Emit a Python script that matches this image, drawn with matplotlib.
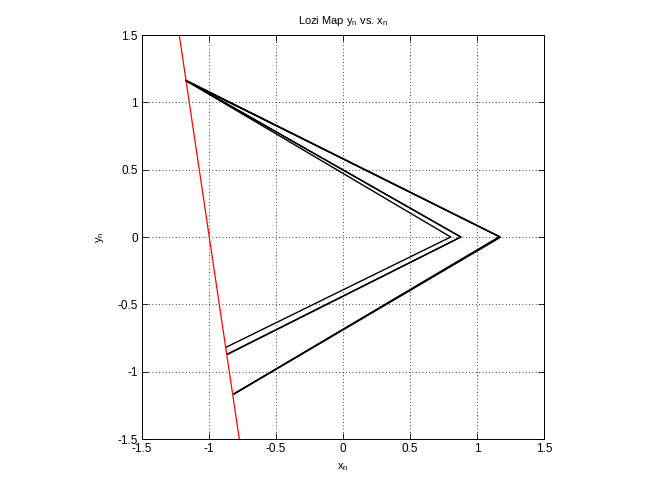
import matplotlib
matplotlib.use("Agg")
import matplotlib.pyplot as plt

# Orbit passes: each pass is (top-left vertex, right vertex, bottom-left vertex)
xn = [-1.172, 0.804, -0.873,
      -1.172, 0.878, -0.860,
      -1.170, 1.172, -0.813,
      -1.172, 1.168, -0.813,
      -1.171, 0.881, -0.859,
      -1.172, 1.175, -0.812]
yn = [1.161, 0.000, -0.819,
      1.161, 0.000, -0.868,
      1.163, 0.000, -1.165,
      1.159, 0.003, -1.164,
      1.162, 0.000, -0.870,
      1.161, -0.002, -1.165]

# Red line endpoints
red_x = [-1.222, -0.774]
red_y = [1.5, -1.5]

ticks = [-1.5, -1, -0.5, 0, 0.5, 1, 1.5]
tick_labels = ["-1.5", "-1", "-0.5", "0", "0.5", "1", "1.5"]

plt.rcParams['font.family'] = ['Liberation Sans', 'DejaVu Sans']
fig = plt.figure(figsize=(6.64, 4.93), dpi=100)
ax = fig.add_axes([142/664, 54/493, 402/664, 404/493])

for i in range(0, len(xn), 3):
    ax.plot(xn[i:i+3], yn[i:i+3], color='black', lw=1.0)
ax.plot(red_x, red_y, color='red', lw=0.9)

ax.set_xlim(-1.5, 1.5)
ax.set_ylim(-1.5, 1.5)
ax.set_xticks(ticks)
ax.set_xticklabels(tick_labels)
ax.set_yticks(ticks)
ax.set_yticklabels(tick_labels)
ax.tick_params(direction='in', top=True, right=True, labelsize=8.5, length=4, width=0.6, pad=3)
ax.grid(True, linestyle=(0, (1, 3)), color='black', lw=0.6)
for s in ax.spines.values():
    s.set_linewidth(0.7)

ax.set_title(r"Lozi Map y$_\mathregular{n}$ vs. x$_\mathregular{n}$", fontsize=8, pad=8)
ax.set_xlabel(r"x$_\mathregular{n}$", fontsize=8, labelpad=4)
ax.set_ylabel(r"y$_\mathregular{n}$", fontsize=8, labelpad=8)

fig.savefig("out.png", dpi=100, facecolor='white')
